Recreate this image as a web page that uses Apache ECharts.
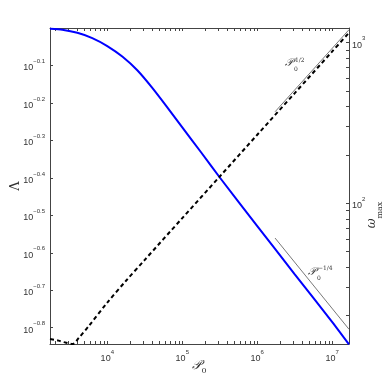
<!DOCTYPE html>
<html>
<head>
<meta charset="utf-8">
<script src="https://cdn.jsdelivr.net/npm/echarts@6/dist/echarts.min.js"></script>
<style>
html, body { margin: 0; padding: 0; background: #fff; }
#chart { width: 386px; height: 387px; }
</style>
</head>
<body>
<div id="chart"></div>
<script>
// Lambda(P0) - blue solid line, left axis
const lambdaP0 = [1722, 2512, 3981, 6310, 1e4, 15849, 25119, 39811, 63096, 1e5, 177828, 316228, 1e6, 3162278, 1e7, 1.671e7]
const lambdaVal = [0.995, 0.989, 0.971, 0.940, 0.895, 0.839, 0.771, 0.692, 0.614, 0.543, 0.466, 0.399, 0.296, 0.220, 0.164, 0.143]

// omega_max(P0) - black dashed line, right axis
const omegaP0 = [1722, 2239, 2818, 3467, 4169, 5623, 1e4, 17783, 31623, 1e5, 316228, 1e6, 3162278, 1e7, 1.671e7]
const omegaVal = [14.29, 13.96, 13.55, 13.30, 14.52, 17.14, 24.10, 32.96, 44.46, 80.91, 146.9, 267.3, 485.3, 883.1, 1153]

// power-law guides
const guideP0 = [1.726e6, 1.671e7]
const guideHalf = [371.5, 1205]      // P0^(1/2), right axis
const guideQuarter = [0.275, 0.157]  // P0^(-1/4), left axis

// tick exponents (log10)
const xTickExp = [4, 5, 6, 7]
const lambdaTickExp = [-0.1, -0.2, -0.3, -0.4, -0.5, -0.6, -0.7, -0.8]
const omegaTickExp = [2, 3]

// axis ranges in log10 units
const xRange = [3.236, 7.223]
const lambdaRange = [-0.8435, 0]
const omegaRange = [1.124, 3.0915]

const lg = Math.log10
const toPts = (xs, ys) => xs.map((x, i) => [lg(x), lg(ys[i])])

function withMinor(range) {
  let out = []
  for (let d = Math.floor(range[0]); d <= Math.ceil(range[1]); d++) {
    for (let m = 1; m <= 9; m++) {
      let v = d + lg(m)
      if (v > range[0] && v < range[1]) out.push(v)
    }
  }
  return out
}

const axisColor = '#444'
const supRich = {
  b: { fontSize: 9, fontFamily: 'Liberation Sans', color: '#333', lineHeight: 14, verticalAlign: 'bottom' },
  s: { fontSize: 6, fontFamily: 'Liberation Sans', color: '#333', lineHeight: 8, verticalAlign: 'top' }
}
const fmtExp = v => {
  let e = Number(v.toFixed(1))
  let s = String(e).replace('-', '\u2212')
  return '{b|10}{s|' + s + '}'
}

function baseAxis(extra) {
  return Object.assign({
    type: 'value',
    splitLine: { show: false },
    axisLine: { show: true, onZero: false, lineStyle: { color: axisColor, width: 1 } }
  }, extra)
}

let option = {
  animation: false,
  backgroundColor: '#fff',
  grid: { left: 50, right: 37, top: 28, bottom: 43, containLabel: false },
  xAxis: [
    baseAxis({
      position: 'bottom',
      min: xRange[0],
      max: xRange[1],
      axisTick: { show: true, inside: true, length: 3, customValues: withMinor(xRange), lineStyle: { color: axisColor } },
      axisLabel: { customValues: xTickExp, formatter: fmtExp, rich: supRich, margin: 5 },
      name: '{p|\uD835\uDCAB}{s|0}',
      nameLocation: 'middle',
      nameGap: 15,
      nameMoveOverlap: false,
      nameTextStyle: {
        rich: {
          p: { fontSize: 13, fontFamily: 'DejaVu Serif', fontStyle: 'italic', color: '#333', lineHeight: 16, verticalAlign: 'top' },
          s: { fontSize: 8, fontFamily: 'DejaVu Serif', color: '#333', lineHeight: 14, verticalAlign: 'bottom' }
        }
      }
    }),
    baseAxis({
      position: 'top',
      min: xRange[0],
      max: xRange[1],
      axisTick: { show: true, inside: true, length: 3, customValues: withMinor(xRange), lineStyle: { color: axisColor } },
      axisLabel: { show: false }
    })
  ],
  yAxis: [
    baseAxis({
      position: 'left',
      min: lambdaRange[0],
      max: lambdaRange[1],
      axisTick: { show: true, inside: true, length: 3, customValues: lambdaTickExp, lineStyle: { color: axisColor } },
      axisLabel: { customValues: lambdaTickExp, formatter: fmtExp, rich: supRich, margin: 5 },
      name: '\u039B',
      nameLocation: 'middle',
      nameRotate: 90,
      nameGap: 28,
      nameMoveOverlap: false,
      nameTextStyle: { fontSize: 13, fontFamily: 'DejaVu Serif', color: '#333' }
    }),
    baseAxis({
      position: 'right',
      min: omegaRange[0],
      max: omegaRange[1],
      axisTick: { show: true, inside: true, length: 3, customValues: withMinor(omegaRange), lineStyle: { color: axisColor } },
      axisLabel: { customValues: omegaTickExp, formatter: fmtExp, rich: supRich, margin: 3 }
    })
  ],
  series: [
    {
      name: 'guideHalf',
      type: 'line',
      xAxisIndex: 0,
      yAxisIndex: 1,
      data: toPts(guideP0, guideHalf),
      showSymbol: false,
      lineStyle: { color: '#555', width: 0.8 }
    },
    {
      name: 'guideQuarter',
      type: 'line',
      xAxisIndex: 0,
      yAxisIndex: 0,
      data: toPts(guideP0, guideQuarter),
      showSymbol: false,
      lineStyle: { color: '#555', width: 0.8 }
    },
    {
      name: 'Lambda',
      type: 'line',
      xAxisIndex: 0,
      yAxisIndex: 0,
      data: toPts(lambdaP0, lambdaVal),
      smooth: 0.2,
      showSymbol: false,
      lineStyle: { color: '#0000ff', width: 2 }
    },
    {
      name: 'omega',
      type: 'line',
      xAxisIndex: 0,
      yAxisIndex: 1,
      data: toPts(omegaP0, omegaVal),
      smooth: 0.3,
      showSymbol: false,
      lineStyle: { color: '#000', width: 2, type: [4, 3] }
    }
  ],
  graphic: [
    // right axis name, omega_max
    {
      type: 'text', x: 375, y: 215, rotation: Math.PI / 2,
      style: {
        text: '{w|\u03C9}{m|max}', align: 'center', verticalAlign: 'middle',
        rich: {
          w: { fontSize: 12, fontFamily: 'DejaVu Serif', fontStyle: 'italic', fill: '#333', lineHeight: 14, verticalAlign: 'top' },
          m: { fontSize: 8, fontFamily: 'DejaVu Serif', fill: '#333', lineHeight: 18, verticalAlign: 'bottom' }
        }
      }
    },
    // P0^(1/2) label
    { type: 'text', left: 285, top: 58, style: { text: '\uD835\uDCAB', font: 'italic 11px DejaVu Serif', fill: '#333' } },
    { type: 'text', left: 294, top: 66, style: { text: '0', font: '6px DejaVu Serif', fill: '#333' } },
    { type: 'text', left: 295, top: 57, style: { text: '1/2', font: '6px DejaVu Serif', fill: '#333' } },
    // P0^(-1/4) label
    { type: 'text', left: 308, top: 267, style: { text: '\uD835\uDCAB', font: 'italic 11px DejaVu Serif', fill: '#333' } },
    { type: 'text', left: 317, top: 275, style: { text: '0', font: '6px DejaVu Serif', fill: '#333' } },
    { type: 'text', left: 318, top: 265, style: { text: '\u22121/4', font: '6px DejaVu Serif', fill: '#333' } }
  ]
}

let myChart = echarts.init(document.getElementById('chart'))
myChart.setOption(option)
</script>
</body>
</html>
